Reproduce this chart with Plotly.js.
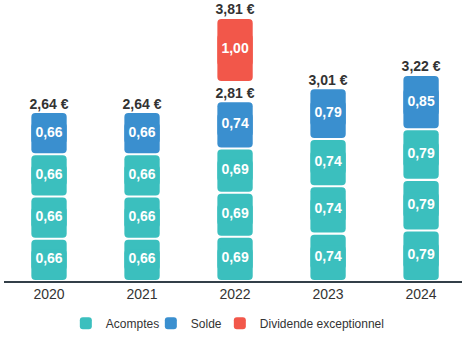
<!DOCTYPE html>
<html>
<head>
<meta charset="utf-8">
<script src="https://cdn.plot.ly/plotly-3.0.1.min.js"></script>
<style>html,body{margin:0;padding:0;background:#fff}#chart{width:462px;height:341px}</style>
</head>
<body>
<div id="chart"></div>
<script>
const years = ['2020', '2021', '2022', '2023', '2024'];
const acompte = [0.66, 0.66, 0.69, 0.74, 0.79];
const nAcomptes = 3;
const solde = [0.66, 0.66, 0.74, 0.79, 0.85];
const exceptionnel = [null, null, 1.00, null, null];

const TEAL = '#3BBFBE', BLUE = '#3A8FCF', RED = '#F2574A';
const LABEL_GAP = 0.30;   // space reserved above the regular total for its label
const GAP = 0.016;        // half of the white gap between stacked segments
const FONT = 'Liberation Sans, Arial, sans-serif';
const fmt = v => v.toFixed(2).replace('.', ',');

const xIdx = years.map((_, i) => i);
const traces = [];
const txt = {x: [], y: [], t: []};

// A segment from lo to hi is drawn as two overlapping bars so that both ends get rounded corners.
function addSeries(name, showLegend, legendWidth, color, lo, hi, vals) {
  const upBase = [], upLen = [], dnBase = [], dnLen = [];
  lo.forEach((l, i) => {
    const h = hi[i];
    if (l == null || h == null) { upBase.push(null); upLen.push(null); dnBase.push(null); dnLen.push(null); return; }
    const q = (h - l) / 4;
    upBase.push(l + q); upLen.push((h - GAP) - (l + q));
    dnBase.push(h - q); dnLen.push((l + GAP) - (h - q));
    txt.x.push(i); txt.y.push((l + h) / 2); txt.t.push(fmt(vals[i]));
  });
  const common = {type: 'bar', x: xIdx, width: 0.38, hoverinfo: 'skip', textposition: 'none',
    name: name, marker: {color: color, line: {width: 0}, cornerradius: 4}};
  traces.push(Object.assign({}, common, {y: upLen, base: upBase, showlegend: showLegend, legendwidth: legendWidth}));
  traces.push(Object.assign({}, common, {y: dnLen, base: dnBase, showlegend: false}));
}

for (let k = 0; k < nAcomptes; k++) {
  addSeries('Acomptes', k === 0, 40, TEAL,
    acompte.map(v => v * k), acompte.map(v => v * (k + 1)), acompte);
}
const soldeBase = acompte.map(v => v * nAcomptes);
const regTotal = soldeBase.map((b, i) => b + solde[i]);
addSeries('Solde', true, 24, BLUE, soldeBase, regTotal, solde);
const excBase = regTotal.map((t, i) => exceptionnel[i] == null ? null : t + LABEL_GAP);
addSeries('Dividende exceptionnel', true, 130, RED, excBase,
  excBase.map((b, i) => b == null ? null : b + exceptionnel[i]), exceptionnel);

// values inside segments
traces.push({
  type: 'scatter', mode: 'text', x: txt.x, y: txt.y, text: txt.t, textposition: 'middle center',
  textfont: {color: '#ffffff', size: 14, family: FONT, weight: 'bold'},
  showlegend: false, hoverinfo: 'skip'
});
// total labels
const lx = [], ly = [], lt = [];
regTotal.forEach((t, i) => {
  lx.push(i); ly.push(t); lt.push(fmt(t) + ' €');
  if (exceptionnel[i] != null) {
    lx.push(i); ly.push(t + LABEL_GAP + exceptionnel[i]); lt.push(fmt(t + exceptionnel[i]) + ' €');
  }
});
traces.push({
  type: 'scatter', mode: 'text', x: lx, y: ly, text: lt, textposition: 'top center',
  textfont: {color: '#333333', size: 14, family: FONT, weight: 'bold'},
  showlegend: false, hoverinfo: 'skip', cliponaxis: false
});

const layout = {
  width: 462, height: 341,
  margin: {l: 4, r: 0, t: 0, b: 60},
  barmode: 'overlay',
  paper_bgcolor: '#ffffff', plot_bgcolor: '#ffffff',
  font: {family: FONT, color: '#333333'},
  xaxis: {
    range: [-0.484, 4.44], tickvals: xIdx, ticktext: years,
    showgrid: false, zeroline: false, showline: true, linecolor: '#333f48', linewidth: 1.5,
    ticks: '', tickfont: {size: 14, color: '#333333', family: FONT}
  },
  yaxis: {range: [0, 4.39], visible: false, showgrid: false, zeroline: false},
  legend: {
    orientation: 'h', x: 0.135, xanchor: 'left', y: -0.15, yanchor: 'middle',
    font: {size: 12, color: '#333333', family: FONT}, traceorder: 'normal'
  },
  showlegend: true
};
Plotly.newPlot('chart', traces, layout, {staticPlot: true, displayModeBar: false});
</script>
</body>
</html>
